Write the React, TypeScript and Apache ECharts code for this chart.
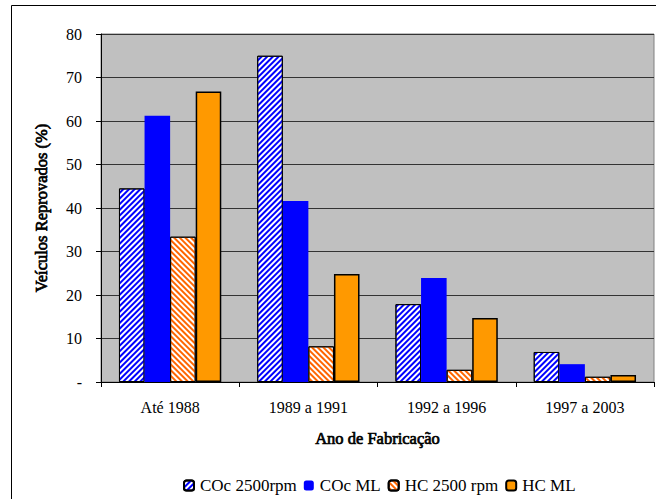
import React, { useEffect, useRef } from "react";
import * as echarts from "echarts";

const categories = ["Até 1988", "1989 a 1991", "1992 a 1996", "1997 a 2003"];
const seriesNames = ["COc 2500rpm", "COc ML", "HC 2500 rpm", "HC ML"];
const coc2500 = [44.5, 75.0, 17.9, 6.9];
const cocML = [61.2, 41.6, 23.9, 4.1];
const hc2500 = [33.4, 8.2, 2.8, 1.2];
const hcML = [66.8, 24.8, 14.7, 1.6];
const yTicks = { min: 0, max: 80, interval: 10 };

const FONT = "Liberation Serif";

export default function App() {
  const ref = useRef<HTMLDivElement>(null);
  useEffect(() => {
    if (!ref.current) return;
    const chart = echarts.init(ref.current, undefined, { renderer: "svg" });
    const hatch = (color: string, rot: number) => ({
      symbol: "rect",
      symbolSize: 1,
      color,
      backgroundColor: "#ffffff",
      dashArrayX: [1, 0],
      dashArrayY: [1.5, 1.5],
      rotation: rot,
    });
    const boldName = {
      fontFamily: FONT,
      fontSize: 16.5,
      fontWeight: "normal",
      color: "#000",
      textBorderColor: "#000",
      textBorderWidth: 0.7,
    };
    chart.setOption({
      animation: false,
      textStyle: { fontFamily: FONT },
      graphic: [
        {
          type: "rect",
          shape: { x: 11.5, y: 5.5, width: 700, height: 600 },
          style: { fill: "none", stroke: "#000", lineWidth: 1 },
          z: -10,
        },
      ],
      grid: {
        left: 101,
        top: 34,
        right: 2,
        bottom: 117,
        show: true,
        backgroundColor: "#c0c0c0",
        borderColor: "#808080",
        borderWidth: 1,
      },
      legend: {
        top: 477,
        left: 183,
        itemWidth: 10,
        itemHeight: 10,
        itemGap: 7,
        padding: 0,
        textStyle: { fontFamily: FONT, fontSize: 17, color: "#000", padding: [0, 0, 0, 1] },
        data: seriesNames,
      },
      xAxis: {
        type: "category",
        data: categories,
        name: "Ano de Fabricação",
        nameLocation: "middle",
        nameGap: 48,
        nameTextStyle: boldName,
        axisLine: { lineStyle: { color: "#000" } },
        axisTick: { show: true, length: 5, lineStyle: { color: "#000" } },
        axisLabel: { fontFamily: FONT, fontSize: 16, color: "#000", margin: 17 },
      },
      yAxis: {
        type: "value",
        min: yTicks.min,
        max: yTicks.max,
        interval: yTicks.interval,
        name: "Veículos Reprovados (%)",
        nameLocation: "middle",
        nameGap: 51,
        nameTextStyle: boldName,
        axisLine: { show: true, lineStyle: { color: "#000" } },
        axisTick: { show: true, length: 5, lineStyle: { color: "#000" } },
        axisLabel: {
          fontFamily: FONT,
          fontSize: 16,
          color: "#000",
          margin: 19,
          formatter: (v: number) => (v === 0 ? "-" : String(v)),
        },
        splitLine: { show: true, lineStyle: { color: "#333", width: 1 } },
      },
      series: [
        {
          name: seriesNames[0],
          type: "bar",
          data: coc2500,
          barGap: "0%",
          barCategoryGap: "26%",
          itemStyle: { color: "#ffffff", borderColor: "#000", borderWidth: 1, decal: hatch("#0000ff", -Math.PI / 4) },
        },
        {
          name: seriesNames[1],
          type: "bar",
          data: cocML,
          itemStyle: { color: "#0000ff" },
        },
        {
          name: seriesNames[2],
          type: "bar",
          data: hc2500,
          itemStyle: { color: "#ffffff", borderColor: "#000", borderWidth: 1, decal: hatch("#ff6600", Math.PI / 4) },
        },
        {
          name: seriesNames[3],
          type: "bar",
          data: hcML,
          itemStyle: { color: "#ff9900", borderColor: "#000", borderWidth: 1.5 },
        },
      ],
    });
    return () => chart.dispose();
  }, []);
  return (
    <div
      ref={ref}
      style={{ position: "absolute", left: 0, top: 0, width: 656, height: 499, background: "#fff" }}
    />
  );
}
